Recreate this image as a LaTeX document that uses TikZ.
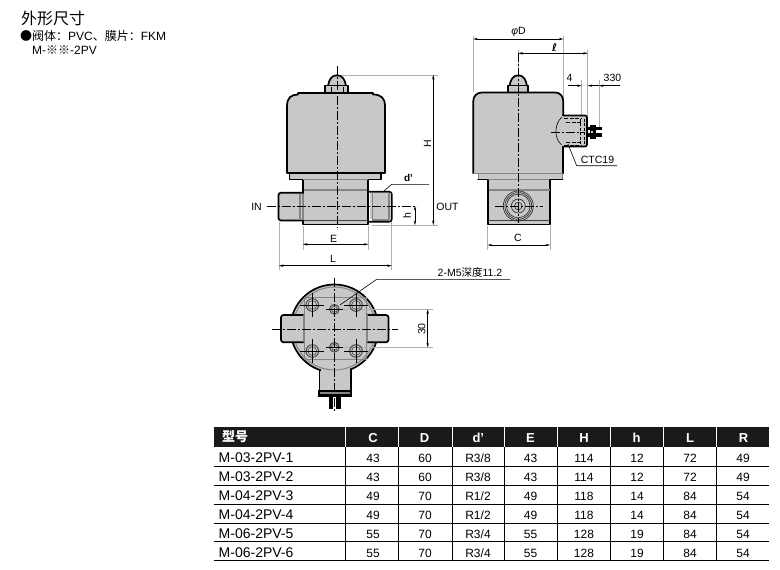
\documentclass[tikz,border=0pt]{standalone}
\usepackage{fontspec}
\setmainfont{Liberation Sans}
\newfontfamily\cjk{Noto Sans CJK SC}
\newfontfamily\dv{DejaVu Sans}
\usetikzlibrary{arrows.meta}
\definecolor{bodygrey}{HTML}{C8C8C8}
\definecolor{greyline}{HTML}{858585}
\definecolor{dimline}{HTML}{B0B0B0}
\definecolor{headblack}{HTML}{1A1A1A}
\definecolor{holegrey}{HTML}{4A4A4A}
\tikzset{
  x=1pt,y=-1pt,
  outline/.style={draw=black,line width=1.7pt,line join=round,line cap=round},
  thinline/.style={draw=black!75,line width=0.7pt},
  greyl/.style={draw=greyline,line width=1.2pt},
  bodyfill/.style={fill=bodygrey},
  center line/.style={draw=black,line width=0.7pt,dash pattern=on 9pt off 2pt on 2pt off 2pt},
  dimarrow/.style={draw=black,line width=0.5pt,{Stealth[length=4.5pt,width=2.4pt]}-{Stealth[length=4.5pt,width=2.4pt]}},
  onearrow/.style={draw=black,line width=0.5pt,-{Stealth[length=4.5pt,width=2.4pt]}},
  extline/.style={draw=dimline,line width=0.8pt},
  leader/.style={draw=black,line width=0.6pt},
  lab/.style={font=\fontsize{10.5}{12}\selectfont,inner sep=0pt},
  headcell/.style={font=\bfseries\fontsize{13}{15}\selectfont,text=white,inner sep=0pt,anchor=base},
  cell/.style={font=\fontsize{12}{14}\selectfont,inner sep=0pt,anchor=base},
  namecell/.style={font=\fontsize{14}{16}\selectfont,inner sep=0pt,anchor=base west},
  tline/.style={draw=black,line width=0.8pt},
}
\begin{document}
\begin{tikzpicture}
\useasboundingbox (0,0) rectangle (780,570);
\fill[white] (0,0) rectangle (780,570);
% title
\node[inner sep=0pt,anchor=west,font=\cjk\fontsize{16}{18}\selectfont] (title) at (21,18) {外形尺寸};
\node[inner sep=0pt,anchor=west,font=\fontsize{12}{14}\selectfont] (sub) at (20,35.5) {{\cjk ●阀体：}PVC{\cjk 、膜片：}FKM};
\node[inner sep=0pt,anchor=west,font=\fontsize{12}{14}\selectfont] (sub2) at (32,50) {M-{\cjk ※※}-2PV};

% ---------- FRONT VIEW ----------
\draw[extline] (337,75) -- (438,75);
\draw[extline] (372,225) -- (438,225);
\draw[extline] (303,226) -- (303,250);
\draw[extline] (368.3,226) -- (368.3,250);
\draw[extline] (279,222) -- (279,270);
\draw[extline] (391.7,222) -- (391.7,270);
% dome
\path[bodyfill,outline] (328,86) .. controls (329,79) and (332,75.3) .. (337,75.3) .. controls (342,75.3) and (345,79) .. (346,86);
\path[bodyfill,outline] (325,93) -- (325,85.5) -- (348,85.5) -- (348,93);
\draw[black,line width=.7pt] (331,87) -- (331,92) (343,87) -- (343,92);
% neck
\path[bodyfill,outline] (303.3,179.5) -- (303.3,224.5) -- (368,224.5) -- (368,179.5);
\draw[greyl] (304,190) -- (367,190);
\draw[thinline] (303.3,220) -- (368,220);
% coil collar
\path[bodyfill] (289.5,173) rectangle (381,179.5);
\draw[outline] (289.5,173) -- (289.5,179.5) -- (303.3,179.5);
\draw[outline] (381,173) -- (381,179.5) -- (368,179.5);
\draw[greyl] (303.3,179.5) -- (368,179.5);
\path[bodyfill,outline] (287,173) -- (287,106) .. controls (287,98) and (291,94.5) .. (298,94.5) -- (298,93) -- (373,93) -- (373,94.5) .. controls (381,94.5) and (385,98) .. (385,106) -- (385,173) -- cycle;
% ports
\path[bodyfill,outline,rounded corners=2.5pt] (303,192.7) -- (278.5,192.7) -- (278.5,220.5) -- (303,220.5);
\draw[greyl] (300,193.5) -- (300,219.5) (303,193.5) -- (303,219.5);
\fill[greyline] (372,218.5) rectangle (389,221.5);
\path[outline,rounded corners=2.5pt] (368.5,191.7) -- (391.7,191.7) -- (391.7,221.7) -- (368.5,221.7);
\path[bodyfill] (369.5,192.7) rectangle (390.7,218.5);
\draw[outline] (368.5,191.7) -- (368.5,221.7);
\draw[greyl] (372.7,193) -- (372.7,220) (389,193) -- (389,220);
% centre lines
\draw[center line] (337.3,66) -- (337.3,228);
\draw[center line] (266.7,206) -- (416.7,206);
% dimensions
\draw[dimarrow] (433.3,75) -- (433.3,225);
\node[lab,rotate=90] (dH) at (427.5,143.5) {H};
\draw[dimarrow] (415,206) -- (415,225);
\node[lab,rotate=90] (dh) at (407,216) {h};
\draw[dimarrow] (303,244.3) -- (368.3,244.3);
\node[lab] (dE) at (333.5,239) {E};
\draw[dimarrow] (279,265.7) -- (391.7,265.7);
\node[lab] (dL) at (333,259) {L};
\draw[leader] (384,191) -- (391.7,184.3) -- (429,184.3);
\node[lab,font=\bfseries\fontsize{10}{12}\selectfont] (dd) at (408.5,178) {d\symbol{39}};
\node[lab] (IN) at (256.5,207) {IN};
\node[lab] (OUT) at (447.5,206.5) {OUT};

% ---------- SIDE VIEW ----------
\draw[extline] (473.3,35.7) -- (473.3,92);
\draw[extline] (563.3,35.7) -- (563.3,100);
\draw[extline] (518.3,50) -- (518.3,75);
\draw[extline] (587.7,50) -- (587.7,116);
\draw[extline] (581.7,80) -- (581.7,116);
\draw[extline] (599,80) -- (599,127);
\draw[extline] (487.7,226) -- (487.7,250);
\draw[extline] (550,226) -- (550,250);
% dome
\path[bodyfill,outline] (509.5,86) .. controls (510.5,79) and (513.5,75.3) .. (518.3,75.3) .. controls (523,75.3) and (526,79) .. (527,86);
\path[bodyfill,outline] (508.3,91.5) -- (508.3,85.5) -- (528.3,85.5) -- (528.3,91.5);
% pins
\fill[black] (586,126.7) rectangle (601.7,130.4);
\fill[black] (586,133.3) rectangle (601.7,137);
\fill[black] (590,125) rectangle (596,139);
\fill[bodygrey] (590.5,131) rectangle (593,132.7);
% lower block
\path[bodyfill,outline] (487.7,179.5) -- (487.7,224.5) -- (550,224.5) -- (550,179.5);
\draw[greyl] (488.5,190) -- (549.5,190);
\draw[thinline] (488,220) -- (550,220);
% collar
\path[bodyfill] (478,173) rectangle (562.5,179.5);
\draw[greyline,line width=.8pt] (478,173) -- (478,179.5) (562.5,173) -- (562.5,179.5);
\draw[greyl] (487.7,179.5) -- (550,179.5);
\draw[outline] (478,179.5) -- (487.7,179.5) (550,179.5) -- (562.5,179.5);
% body
\fill[bodygrey] (473.3,173.5) -- (473.3,101) .. controls (473.3,96) and (477,92.5) .. (482,92.5) -- (555,92.5) .. controls (560,92.5) and (563.3,96) .. (563.3,102) -- (563.3,173.5) -- cycle;
\draw[outline] (473.3,173.5) -- (473.3,101) .. controls (473.3,96) and (477,92.5) .. (482,92.5) -- (555,92.5) .. controls (560,92.5) and (563.3,96) .. (563.3,102) -- (563.3,115.5);
\draw[outline] (563.3,146.5) -- (563.3,173.5);
\draw[greyl] (473.3,173.8) -- (563.3,173.8);
% connector
\path[bodyfill,outline,rounded corners=2pt] (563.3,115.5) -- (587,115.5) -- (587,146.5) -- (563.3,146.5);
\fill[bodygrey] (555,117) rectangle (570,145.5);
\draw[black,line width=.6pt] (561.7,117.3) .. controls (554,124) and (554,139) .. (561.7,145);
\draw[black,line width=.6pt,dash pattern=on 4pt off 1.5pt] (564,118.5) -- (581,118.5) (566,122.3) -- (581,122.3) (566,142) -- (581,142) (564,145) -- (581,145);
\draw[black,line width=.6pt,dash pattern=on 3pt off 1.5pt] (580.7,118.5) -- (580.7,145) (584.3,118.5) -- (584.3,145);
% port circles
\foreach \r in {15,13.4,11.8,7,3.8}{\draw[black!80,line width=.7pt] (518.3,206) circle[radius=\r];}
% centre lines
\draw[center line] (518.3,53.3) -- (518.3,223);
\draw[center line] (495,206) -- (543,206);
\draw[center line] (550.7,132.3) -- (584,132.3);
% dimensions
\draw[dimarrow] (473.3,39) -- (563.3,39);
\node[lab] (dD) at (518.5,32) {\textit{φ}D};
\draw[dimarrow] (518.3,53.3) -- (587.7,53.3);
\node[lab,font=\dv\bfseries\fontsize{10.5}{12}\selectfont] (dl) at (554.5,48) {ℓ};
\coordinate (f1) at (568,85.7);
\coordinate (f2) at (620,85.7);
\draw[onearrow] (f1) -- (581.7,85.7);
\draw[onearrow] (599,85.7) -- (587.7,85.7);
\draw[onearrow] (f2) -- (599,85.7);
\node[lab] (d4) at (569.5,77.5) {4};
\node[lab] (d330) at (612.5,78) {330};
\draw[leader] (568,144) -- (576.7,165.7) -- (617,165.7);
\node[lab] (ctc) at (597.5,160) {CTC19};
\draw[dimarrow] (487.7,245) -- (550,245);
\node[lab] (dC) at (518,238) {C};

% ---------- TOP VIEW ----------
\fill[black] (329,396) rectangle (333.3,409.3);
\fill[black] (336,396) rectangle (340.7,409.3);
\path[bodyfill,outline] (319.5,365) -- (319.5,391) -- (351,391) -- (351,365);
\fill[black] (317.7,390) rectangle (352.3,397.3);
\fill[greyline] (320,392.2) rectangle (350,394.2);
% circle
\path[bodyfill,outline] (334.4,328.5) circle[radius=44];
\path[bodyfill] (320.5,369) rectangle (350,380);
\begin{scope}
\clip (280,270) rectangle (400,372);
\draw[greyline,line width=1pt] (334.4,328.5) circle[radius=41.5];
\end{scope}
% inner lines
\draw[greyl] (304.3,297.3) -- (366.7,297.3) (304.3,359.3) -- (366.7,359.3);
\draw[greyl] (304.3,297.3) -- (304.3,359.3) (366.7,297.3) -- (366.7,359.3);
% ports
\path[bodyfill,outline,rounded corners=2.5pt] (303.3,315) -- (281,315) -- (281,342.3) -- (303.3,342.3);
\path[bodyfill,outline,rounded corners=2.5pt] (367.7,315) -- (388.5,315) -- (388.5,342.3) -- (367.7,342.3);
\draw[greyl] (303.3,315) -- (303.3,342.3) (367.7,315) -- (367.7,342.3);
% extension lines of 30
\draw[extline] (340,309.3) -- (432.7,309.3);
\draw[extline] (340,347.3) -- (432.7,347.3);
% holes
\foreach \px/\py in {312.3/305,356/305,312.3/351,356/351}{
  \draw[holegrey,line width=1pt] (\px,\py) circle[radius=6.3];
  \draw[holegrey,line width=.6pt] (\px,\py) circle[radius=4.4];
  \draw[black,line width=.5pt] (\px-12,\py) -- (\px+12,\py) (\px,\py-12) -- (\px,\py+12);
}
\foreach \px/\py in {334.4/309.3,334.4/347.3}{
  \draw[holegrey,line width=1pt] (\px,\py) circle[radius=4.8];
  \draw[holegrey,line width=.6pt] (\px,\py) circle[radius=3];
  \draw[black,line width=.5pt] (\px-8.5,\py) -- (\px+8.5,\py);
}
% centre lines
\draw[center line] (334.4,278) -- (334.4,412);
\draw[center line] (272,329) -- (398,329);
% dims
\draw[dimarrow] (427.7,309.3) -- (427.7,347.3);
\node[lab,rotate=90] (d30) at (421.7,329) {30};
\draw[leader] (340,305) -- (376.7,279.3) -- (510,279.3);
\node[lab] (m5) at (470,272) {2-M5{\cjk 深度}11.2};

% ---------- TABLE ----------
\fill[headblack] (214,426.7) rectangle (769.3,447.3);
\foreach \cx in {345.3,398.7,452,504.7,557.3,610,663.3,716.7}{
  \draw[white,line width=1pt] (\cx,426.7) -- (\cx,447.3);
  \draw[tline] (\cx,447.3) -- (\cx,560.7);
}
\foreach \ry in {466,485,504.3,523.3,541.7,560.7}{
  \draw[tline] (214,\ry) -- (769.3,\ry);
}
\node[headcell,anchor=west,font=\cjk\bfseries\fontsize{13}{15}\selectfont] (hname) at (222,436.5) {型号};
\foreach \n/\cx/\t in {C/373/C,D/424.5/D,dd/478.3/d\symbol{39},E/530.5/E,H/584/H,hh/636.7/h,L/690/L,R/743.5/R}{
  \node[headcell] (head\n) at (\cx,442.3) {\t};
}
\foreach \i/\ry/\name/\vC/\vD/\vd/\vE/\vH/\vh/\vL/\vR in {
 1/462.3/M-03-2PV-1/43/60/R3\slash 8/43/114/12/72/49,
 2/481/M-03-2PV-2/43/60/R3\slash 8/43/114/12/72/49,
 3/500.3/M-04-2PV-3/49/70/R1\slash 2/49/118/14/84/54,
 4/519.3/M-04-2PV-4/49/70/R1\slash 2/49/118/14/84/54,
 5/538.3/M-06-2PV-5/55/70/R3\slash 4/55/128/19/84/54,
 6/557/M-06-2PV-6/55/70/R3\slash 4/55/128/19/84/54}{
  \node[namecell] (name\i) at (218.5,\ry) {\name};
  \node[cell] (c\i) at (373,\ry) {\vC};
  \node[cell] (D\i) at (425,\ry) {\vD};
  \node[cell] (dd\i) at (478,\ry) {\vd};
  \node[cell] (E\i) at (530.5,\ry) {\vE};
  \node[cell] (H\i) at (584,\ry) {\vH};
  \node[cell] (h\i) at (637,\ry) {\vh};
  \node[cell] (L\i) at (690,\ry) {\vL};
  \node[cell] (R\i) at (743,\ry) {\vR};
}
\end{tikzpicture}
\end{document}
